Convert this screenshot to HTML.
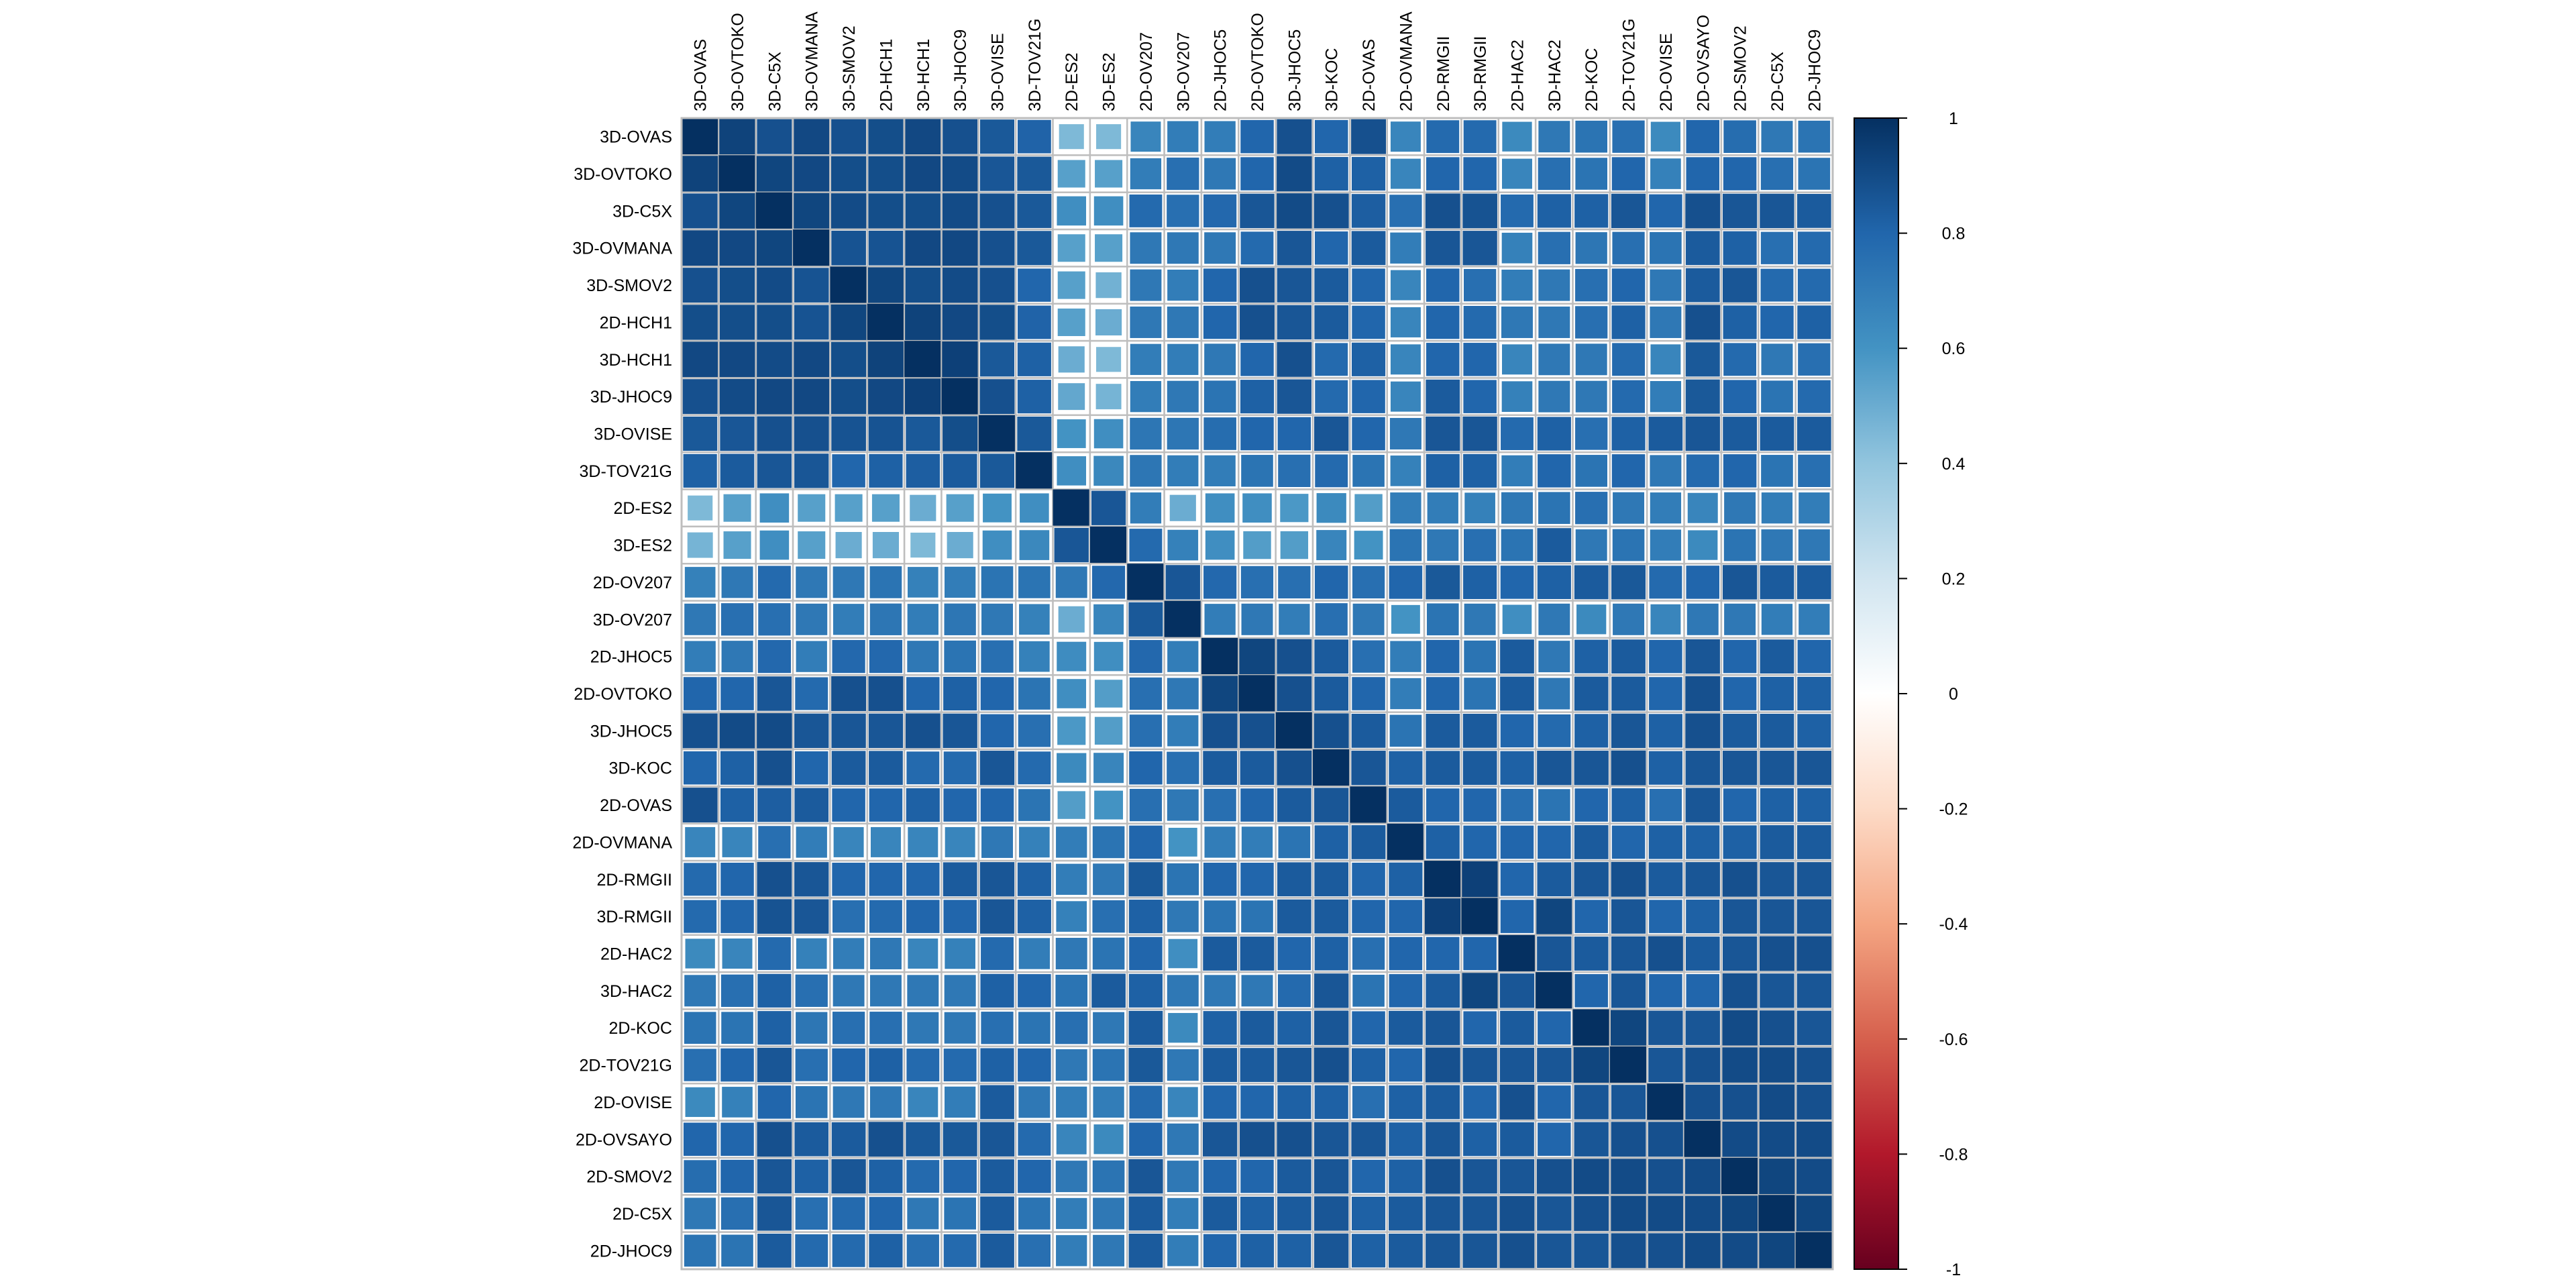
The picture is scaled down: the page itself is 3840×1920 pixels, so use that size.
<!DOCTYPE html>
<html><head><meta charset="utf-8"><style>
html,body{margin:0;padding:0;background:#fff;}
svg{display:block;font-family:"Liberation Sans",sans-serif;}
</style></head><body>
<svg id="chart" width="3840" height="1920" viewBox="0 0 3840 1920" xmlns="http://www.w3.org/2000/svg">
<rect x="0" y="0" width="3840" height="1920" fill="#fff"/>
<g id="cells"></g>
<g id="rowlabels"></g>
<g id="collabels"></g>
<g id="legend"></g>
</svg>
<script>
const labels = ["3D-OVAS","3D-OVTOKO","3D-C5X","3D-OVMANA","3D-SMOV2","2D-HCH1","3D-HCH1","3D-JHOC9","3D-OVISE","3D-TOV21G","2D-ES2","3D-ES2","2D-OV207","3D-OV207","2D-JHOC5","2D-OVTOKO","3D-JHOC5","3D-KOC","2D-OVAS","2D-OVMANA","2D-RMGII","3D-RMGII","2D-HAC2","3D-HAC2","2D-KOC","2D-TOV21G","2D-OVISE","2D-OVSAYO","2D-SMOV2","2D-C5X","2D-JHOC9"];
const legendTicks = [1,0.8,0.6,0.4,0.2,0,-0.2,-0.4,-0.6,-0.8,-1];
const tickLabels = ["1","0.8","0.6","0.4","0.2","0","-0.2","-0.4","-0.6","-0.8","-1"];
const row15 = [.80,.80,.86,.78,.88,.88,.80,.82,.80,.74,.62,.56,.76,.72,.92,1,.88,.84,.80,.70,.80,.74,.84,.72,.84,.84,.80,.88,.80,.82,.82];
const topLeft = [
[1,.93,.88,.91,.88,.89,.91,.88,.85,.81,.45,.45,.66,.70,.70],
[.93,1,.92,.91,.89,.89,.91,.90,.86,.85,.55,.55,.70,.76,.72],
[.88,.92,1,.92,.90,.89,.89,.90,.88,.85,.62,.62,.78,.76,.79],
[.91,.91,.92,1,.87,.87,.91,.91,.88,.85,.55,.55,.72,.72,.72],
[.88,.89,.90,.87,1,.92,.89,.90,.88,.80,.55,.48,.72,.70,.80],
[.89,.89,.89,.87,.92,1,.93,.91,.89,.81,.55,.50,.72,.72,.80],
[.91,.91,.90,.91,.89,.93,1,.94,.85,.82,.50,.45,.70,.70,.72],
[.88,.90,.91,.91,.89,.91,.94,1,.88,.82,.52,.47,.70,.72,.74],
[.85,.86,.88,.88,.87,.87,.85,.89,1,.85,.60,.62,.73,.73,.77],
[.82,.84,.86,.86,.80,.82,.83,.84,.85,1,.62,.65,.73,.70,.70],
[.45,.55,.62,.55,.55,.55,.50,.55,.60,.62,1,.86,.70,.50,.62],
[.47,.55,.62,.55,.50,.50,.45,.50,.62,.65,.86,1,.78,.68,.62],
[.68,.72,.78,.72,.72,.74,.68,.70,.74,.74,.72,.79,1,.86,.79],
[.72,.76,.76,.72,.70,.73,.70,.73,.72,.68,.50,.66,.85,1,.70],
[.70,.72,.79,.70,.79,.79,.72,.74,.76,.68,.63,.62,.79,.70,1]];
const topRight = [
[.88,.80,.88,.66,.78,.78,.64,.72,.74,.76,.64,.80,.77,.72,.74],
[.90,.82,.82,.66,.80,.80,.66,.76,.74,.80,.68,.80,.80,.76,.74],
[.90,.88,.83,.76,.88,.87,.78,.82,.82,.86,.80,.88,.86,.86,.84],
[.86,.80,.84,.70,.86,.86,.68,.76,.73,.76,.74,.84,.82,.76,.78],
[.86,.84,.80,.66,.80,.76,.70,.72,.76,.80,.72,.84,.86,.78,.78],
[.86,.84,.80,.66,.80,.78,.72,.72,.76,.82,.72,.88,.82,.80,.82],
[.88,.78,.82,.66,.80,.80,.66,.72,.72,.78,.66,.85,.78,.72,.76],
[.86,.78,.80,.66,.84,.80,.68,.72,.72,.78,.70,.85,.80,.74,.78],
[.80,.86,.80,.72,.86,.86,.78,.82,.76,.82,.84,.86,.84,.84,.84],
[.76,.78,.74,.68,.82,.82,.70,.80,.74,.80,.72,.78,.80,.74,.76],
[.58,.64,.56,.70,.70,.68,.72,.74,.76,.72,.70,.66,.72,.70,.70],
[.56,.66,.60,.74,.72,.76,.74,.84,.72,.74,.70,.64,.74,.72,.72],
[.76,.80,.76,.80,.85,.82,.80,.82,.84,.85,.78,.80,.86,.84,.84],
[.70,.76,.72,.60,.74,.72,.62,.72,.64,.72,.66,.72,.72,.70,.70],
[.88,.84,.76,.70,.80,.74,.84,.72,.82,.84,.80,.86,.80,.84,.80]];
const bottomLeft = [
[.88,.90,.90,.86,.86,.86,.88,.86,.80,.76,.58,.56,.76,.70,.88],
[.80,.82,.88,.80,.84,.84,.78,.78,.86,.78,.64,.66,.80,.76,.84],
[.88,.82,.83,.84,.80,.80,.82,.80,.80,.74,.56,.60,.76,.72,.76],
[.66,.66,.76,.70,.66,.66,.66,.66,.72,.68,.70,.74,.80,.60,.70],
[.78,.80,.88,.86,.80,.80,.80,.84,.86,.82,.70,.72,.85,.74,.80],
[.78,.80,.87,.86,.76,.78,.80,.80,.86,.82,.68,.76,.82,.72,.74],
[.64,.66,.78,.68,.70,.72,.66,.68,.78,.70,.72,.74,.80,.62,.84],
[.72,.76,.82,.76,.72,.72,.72,.72,.82,.80,.74,.84,.82,.72,.72],
[.74,.74,.82,.73,.76,.76,.72,.72,.76,.74,.76,.72,.84,.64,.82],
[.76,.80,.86,.76,.80,.82,.78,.78,.82,.80,.72,.74,.85,.72,.84],
[.64,.68,.80,.74,.72,.72,.66,.70,.84,.72,.70,.70,.78,.66,.80],
[.80,.80,.88,.84,.84,.88,.85,.85,.86,.78,.66,.64,.80,.72,.86],
[.77,.80,.86,.82,.86,.82,.78,.80,.84,.80,.72,.74,.86,.72,.80],
[.72,.76,.86,.76,.78,.80,.72,.74,.84,.74,.70,.72,.84,.70,.84],
[.74,.74,.84,.78,.78,.82,.76,.78,.84,.76,.70,.72,.84,.70,.80]];
const bottomRight = [
[1,.88,.84,.74,.84,.84,.80,.78,.82,.86,.82,.88,.84,.84,.82],
[.88,1,.86,.82,.84,.84,.82,.86,.86,.88,.82,.86,.86,.86,.86],
[.84,.86,1,.84,.80,.80,.76,.74,.80,.82,.76,.86,.80,.82,.82],
[.74,.82,.84,1,.82,.80,.80,.80,.84,.80,.82,.82,.82,.84,.84],
[.84,.84,.80,.82,1,.94,.80,.84,.86,.88,.84,.86,.88,.86,.86],
[.84,.84,.80,.80,.94,1,.80,.92,.80,.86,.80,.82,.86,.86,.86],
[.80,.82,.76,.80,.80,.80,1,.86,.84,.86,.88,.84,.86,.88,.88],
[.78,.86,.74,.80,.84,.92,.86,1,.80,.86,.80,.80,.88,.86,.86],
[.82,.86,.80,.84,.86,.80,.84,.80,1,.92,.86,.86,.90,.88,.86],
[.86,.88,.82,.80,.88,.86,.86,.86,.92,1,.86,.88,.90,.90,.88],
[.82,.82,.76,.82,.84,.80,.88,.80,.86,.86,1,.88,.88,.90,.88],
[.88,.86,.86,.82,.86,.82,.84,.80,.86,.88,.88,1,.90,.90,.90],
[.84,.86,.80,.82,.88,.86,.86,.88,.90,.90,.88,.90,1,.92,.90],
[.84,.86,.82,.84,.86,.86,.88,.86,.88,.90,.90,.90,.92,1,.92],
[.82,.86,.82,.84,.86,.86,.88,.86,.86,.88,.88,.90,.90,.92,1]];

const NS="http://www.w3.org/2000/svg";
const X0=1016, Y0=176, W=1716, N=labels.length, C=W/N;
function xPos(j){return X0+j*C;}
function yPos(i){return Y0+i*C;}
const stops=["#67001F","#B2182B","#D6604D","#F4A582","#FDDBC7","#FFFFFF","#D1E5F0","#92C5DE","#4393C3","#2166AC","#053061"];
function hex(h){return [1,3,5].map(k=>parseInt(h.substr(k,2),16));}
function color(v){
  const t=(v+1)/2*10; const k=Math.min(9,Math.floor(t)); const f=t-k;
  const a=hex(stops[k]), b=hex(stops[k+1]);
  return "rgb("+a.map((c,i)=>Math.round(c+(b[i]-c)*f)).join(",")+")";
}
function val(i,j){
  if(i===15) return row15[j];
  if(j===15) return row15[i];
  if(i<15) return j<15? topLeft[i][j] : topRight[i][j-16];
  return j<15? bottomLeft[i-16][j] : bottomRight[i-16][j-16];
}
function mk(tag,attrs,parent){const e=document.createElementNS(NS,tag);for(const k in attrs)e.setAttribute(k,attrs[k]);parent.appendChild(e);return e;}
const cells=document.getElementById('cells');
for(let i=0;i<N;i++){for(let j=0;j<N;j++){
  const v=val(i,j);
  const bg=mk('rect',{x:xPos(j),y:yPos(i),width:C,height:C,fill:'#fff',stroke:'#BEBEBE','stroke-width':2.5},cells);
  
  
  const s=C*Math.sqrt(Math.abs(v));
  const sq=mk('rect',{x:xPos(j)+(C-s)/2,y:yPos(i)+(C-s)/2,width:s,height:s,fill:color(v)},cells);
  
  
}}
mk('rect',{x:X0,y:Y0,width:W,height:W,fill:'none',stroke:'#BEBEBE','stroke-width':3},cells);
const rl=document.getElementById('rowlabels'), cl=document.getElementById('collabels');
labels.forEach((lab,i)=>{
  const t=mk('text',{x:X0-14,y:yPos(i)+C/2+9,'text-anchor':'end','font-size':25,fill:'#000'},rl);
  t.textContent=lab;
  
  
  const cx=xPos(i)+C/2+9;
  const u=mk('text',{x:cx,y:166,'font-size':25,fill:'#000',transform:'rotate(-90 '+cx+' 166)'},cl);
  u.textContent=lab;
  
  
});
// legend
const lg=document.getElementById('legend');
const LX=2764, LW=66, LT=176, LB=1892;
const defs=mk('defs',{},lg);
const grad=mk('linearGradient',{id:'cbar',x1:0,y1:0,x2:0,y2:1},defs);
stops.slice().reverse().forEach((c,k)=>mk('stop',{offset:(k/10),'stop-color':c},grad));
const bar=mk('rect',{x:LX,y:LT,width:LW,height:LB-LT,fill:'url(#cbar)',stroke:'#000','stroke-width':2},lg);


function yLeg(v){return LT+(1-v)/2*(LB-LT);}
legendTicks.forEach((v,k)=>{
  const y=yLeg(v);
  const tk=mk('line',{x1:LX+LW,x2:LX+LW+13,y1:y,y2:y,stroke:'#000','stroke-width':2},lg);
  
  
  const tx=mk('text',{x:2912,y:y+9,'text-anchor':'middle','font-size':25,fill:'#000'},lg);
  tx.textContent=tickLabels[k];
  
  
});
</script>
</body></html>
